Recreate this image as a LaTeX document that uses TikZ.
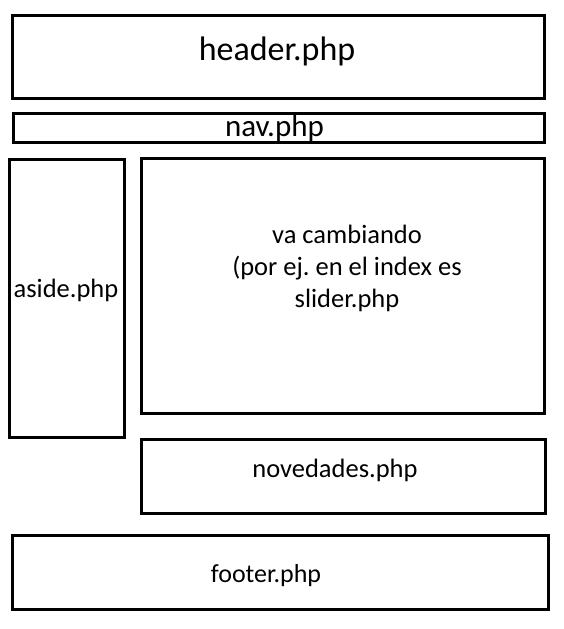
\documentclass[tikz,border=0pt]{standalone}
\usepackage{fontspec}
\setmainfont{Carlito}
\frenchspacing
\tikzset{
  box/.style={draw=black, line width=3pt, fill=none},
  lbl/.style={anchor=base, inner sep=0pt, text=black},
}
\begin{document}
\begin{tikzpicture}[x=1pt,y=-1pt]
\useasboundingbox (0,0) rectangle (564,629);
\fill[white] (0,0) rectangle (564,629);
\draw[box] (12.5,15) rectangle (544.5,98.5);
\draw[box] (13,113.5) rectangle (544.5,142.5);
\draw[box] (9.5,159.5) rectangle (124.5,437.5);
\draw[box] (141.5,158) rectangle (544.5,413.5);
\draw[box] (141.5,439.5) rectangle (545.5,513);
\draw[box] (12.5,535.5) rectangle (548.5,609.5);
\node[lbl, font=\fontsize{34}{40}\selectfont] (header) at (277,60) {header.php};
\node[lbl, font=\fontsize{31}{36}\selectfont] (nav) at (274.5,136) {nav.php};
\node[lbl, font=\fontsize{26.5}{30}\selectfont] (aside) at (66,297) {aside.php};
\node[anchor=center, inner sep=0pt, align=center, font=\fontsize{26.5}{32}\selectfont] (main) at (347,268) {va cambiando\\(por ej. en el index es\\slider.php};
\node[lbl, font=\fontsize{26.5}{30}\selectfont] (nov) at (335,477) {novedades.php};
\node[lbl, font=\fontsize{26}{30}\selectfont] (footer) at (266,582) {footer.php};
\end{tikzpicture}
\end{document}
